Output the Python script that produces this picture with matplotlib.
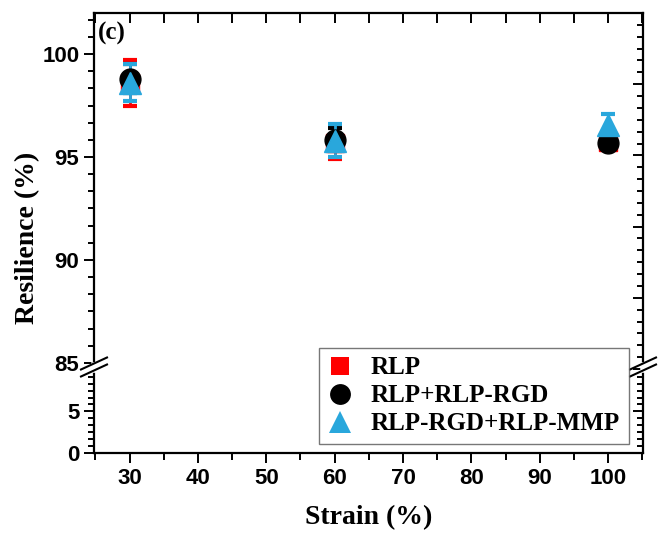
import matplotlib
matplotlib.use("Agg")
import matplotlib.pyplot as plt
from matplotlib.lines import Line2D
from matplotlib.ticker import AutoMinorLocator, MultipleLocator

strain = [30, 60, 100]
rlp = [98.6, 95.7, 95.75]
rlp_err = [1.1, 0.8, 0.3]
rlp_rgd = [98.8, 95.85, 95.7]
rlp_rgd_err = [0.7, 0.55, 0.2]
rgd_mmp = [98.6, 95.8, 96.55]
rgd_mmp_err = [0.9, 0.8, 0.55]

labels = ["RLP", "RLP+RLP-RGD", "RLP-RGD+RLP-MMP"]
colors = ["#ff0000", "#000000", "#29a7dc"]
markers = ["s", "o", "^"]
sizes = [13, 15, 16]

W, H = 664, 543
fig = plt.figure(figsize=(W / 100, H / 100), dpi=100)

left, right = 94 / W, 643 / W
ax_top = fig.add_axes([left, (H - 369) / H, right - left, 356 / H])
ax_bot = fig.add_axes([left, (H - 453) / H, right - left, 81.5 / H])

series = [(rlp, rlp_err), (rlp_rgd, rlp_rgd_err), (rgd_mmp, rgd_mmp_err)]
for ax in (ax_top, ax_bot):
    for (vals, errs), c, m, s in zip(series, colors, markers, sizes):
        ax.errorbar(strain, vals, yerr=errs, fmt=m, color=c, ecolor=c,
                    markersize=s, elinewidth=2, capsize=5, capthick=3,
                    markeredgecolor=c)
    ax.set_xlim(24.8, 105.1)
    ax.xaxis.set_major_locator(MultipleLocator(10))
    ax.xaxis.set_minor_locator(MultipleLocator(5))
    for sp in ax.spines.values():
        sp.set_linewidth(1.6)

ax_top.set_ylim(84.7, 102)
ax_top.yaxis.set_major_locator(MultipleLocator(5))
ax_bot.set_ylim(0, 9.8)
ax_bot.set_yticks([0, 5])

ax_top.spines["bottom"].set_visible(False)
ax_bot.spines["top"].set_visible(False)

for ax in (ax_top, ax_bot):
    ax.yaxis.set_minor_locator(AutoMinorLocator(6))
    ax.tick_params(axis="y", which="both", left=True, right=False,
                   direction="out", width=1.4)
    ax.tick_params(axis="y", which="major", length=7)
    ax.tick_params(axis="y", which="minor", length=4)
    for lab in ax.get_yticklabels():
        lab.set_fontfamily("Liberation Sans")
        lab.set_fontweight("bold")
        lab.set_fontsize(16)
    # inward ticks on the right side
    axr = ax.twinx()
    axr.set_ylim(ax.get_ylim())
    axr.set_yticks(ax.get_yticks())
    axr.yaxis.set_minor_locator(AutoMinorLocator(6))
    axr.tick_params(axis="y", which="both", direction="in", width=1.4,
                    labelright=False)
    axr.tick_params(axis="y", which="major", length=7)
    axr.tick_params(axis="y", which="minor", length=4)
    for sp in axr.spines.values():
        sp.set_visible(False)

ax_top.tick_params(axis="x", which="both", bottom=False, labelbottom=False,
                   top=True, direction="in", width=1.4, length=7)
ax_bot.tick_params(axis="x", which="both", top=False, bottom=True,
                   direction="out", width=1.4)
ax_bot.tick_params(axis="x", which="major", length=7, pad=4)
ax_bot.tick_params(axis="x", which="minor", length=5)
for lab in ax_bot.get_xticklabels():
    lab.set_fontfamily("Liberation Sans")
    lab.set_fontweight("bold")
    lab.set_fontsize(16)

# break marks on both spines
y_break = (H - 367) / H
for xb in (left, right):
    fig.add_artist(Line2D([xb, xb], [y_break - 2.5 / H, y_break + 2.5 / H],
                          color="white", lw=4))
    for dy in (-3.5 / H, 3.5 / H):
        fig.add_artist(Line2D([xb - 13 / W, xb + 13 / W],
                              [y_break + dy - 6 / H, y_break + dy + 6 / H],
                              color="black", lw=1.5))

serif = {"family": "Liberation Serif", "weight": "bold"}
fig.text(0.5 * (left + right), (H - 518) / H, "Strain (%)", ha="center",
         va="center", fontsize=20, **serif)
fig.text(28 / W, (H - 238) / H, "Resilience (%)", rotation=90, ha="center",
         va="center", fontsize=20, **serif)
fig.text(98 / W, (H - 33) / H, "(c)", ha="left", va="center", fontsize=18, **serif)

handles = [Line2D([], [], linestyle="none", marker=m, color=c, markersize=s,
                  markeredgewidth=0)
           for m, c, s in zip(markers, colors, sizes)]
leg = fig.legend(handles, labels, loc="lower right",
                 bbox_to_anchor=(629 / W, (H - 444) / H),
                 prop={"family": "Liberation Serif", "weight": "bold", "size": 18},
                 frameon=True, fancybox=False, edgecolor="#555555",
                 handletextpad=0.75, labelspacing=0.2, borderpad=0.35,
                 handlelength=1.0, borderaxespad=0)
leg.get_frame().set_linewidth(1.0)
leg.set_zorder(10)

fig.savefig("out.png", dpi=100)
